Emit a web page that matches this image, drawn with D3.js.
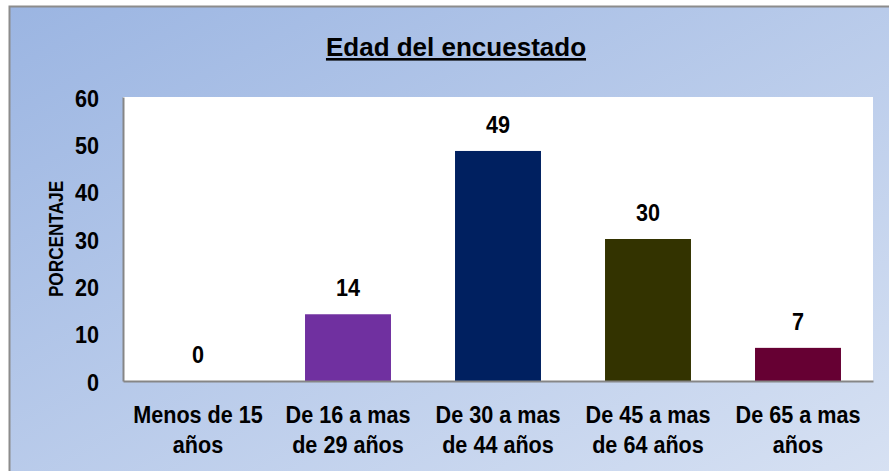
<!DOCTYPE html>
<html>
<head>
<meta charset="utf-8">
<script src="https://cdn.jsdelivr.net/npm/d3@7"></script>
<style>
  body { margin: 0; background: #fff; }
  svg text { font-family: "Liberation Sans Narrow", "Arial Narrow", "Liberation Sans", Arial, sans-serif; font-weight: bold; fill: #000; }
</style>
</head>
<body>
<svg id="chart" width="889" height="471"></svg>
<script>
// data
const categories = [
  ["Menos de 15", "años"],
  ["De 16 a mas", "de 29 años"],
  ["De 30 a mas", "de 44 años"],
  ["De 45 a mas", "de 64 años"],
  ["De 65 a mas", "años"]
];
const values = [0, 14.1, 48.6, 30, 7];
const barColors = ["#7f7f7f", "#7030a0", "#002060", "#333300", "#660033"];
const yTicks = [0, 10, 20, 30, 40, 50, 60];

const svg = d3.select("#chart"),
    width = +svg.attr("width"),
    height = +svg.attr("height");

const narrow = 0.9; // squeeze to look like a narrow face

// background gradient of the chart frame
const defs = svg.append("defs");
const grad = defs.append("linearGradient")
    .attr("id", "bg")
    .attr("x1", "0%").attr("y1", "0%")
    .attr("x2", "100%").attr("y2", "100%");
grad.append("stop").attr("offset", "0%").attr("stop-color", "#9bb5e2");
grad.append("stop").attr("offset", "100%").attr("stop-color", "#d8e2f3");

svg.append("rect")
    .attr("x", 9.5).attr("y", 6.5)
    .attr("width", width + 10).attr("height", height + 10)
    .attr("fill", "url(#bg)")
    .attr("stroke", "#8c8c8c")
    .attr("stroke-width", 2);

const margin = {left: 123, right: 16, top: 97, bottom: 90};
const x = d3.scaleBand()
    .domain(d3.range(categories.length))
    .range([margin.left, width - margin.right])
    .paddingInner(0.427)
    .paddingOuter(0.2135);

const y = d3.scaleLinear()
    .domain([0, 60])
    .range([height - margin.bottom, margin.top]);

// plot area
svg.append("rect")
    .attr("x", margin.left).attr("y", margin.top)
    .attr("width", width - margin.right - margin.left)
    .attr("height", y(0) - margin.top)
    .attr("fill", "#fff");

// bars
svg.selectAll("rect.bar")
  .data(values)
  .enter().append("rect")
    .attr("class", "bar")
    .attr("x", (d, i) => x(i))
    .attr("y", d => y(d))
    .attr("width", x.bandwidth())
    .attr("height", d => y(0) - y(d))
    .attr("fill", (d, i) => barColors[i]);

// value labels
svg.selectAll("text.val")
  .data(values)
  .enter().append("text")
    .attr("class", "val")
    .attr("transform", (d, i) => "translate(" + (x(i) + x.bandwidth() / 2) + "," + (y(d) - 18) + ") scale(" + narrow + ",1)")
    .attr("text-anchor", "middle")
    .style("font-size", "24px")
    .text(d => d3.format(".0f")(d));

// y axis
const yAxis = svg.append("g")
    .attr("transform", "translate(" + margin.left + ",0)")
    .call(d3.axisLeft(y).tickValues(yTicks).tickSize(0).tickPadding(24));
yAxis.select(".domain").attr("stroke", "#868686").attr("stroke-width", 2);
yAxis.selectAll("text")
    .attr("x", -24 / narrow)
    .attr("dy", "0.38em")
    .attr("transform", "scale(" + narrow + ",1)")
    .attr("fill", "#000")
    .style("font-size", "24px");

// x axis
const xAxis = svg.append("g")
    .attr("transform", "translate(0," + y(0) + ")")
    .call(d3.axisBottom(x).tickSize(0).tickFormat(""));
xAxis.select(".domain").attr("stroke", "#868686").attr("stroke-width", 2);

xAxis.selectAll(".tick").each(function(i) {
  const t = d3.select(this).append("text")
      .attr("text-anchor", "middle")
      .attr("transform", "scale(" + narrow + ",1)")
      .style("font-size", "24px");
  categories[i].forEach(function(line, k) {
    t.append("tspan").attr("x", 0).attr("y", 42 + k * 30).text(line);
  });
});

// titles
svg.append("text")
    .attr("x", 456).attr("y", 56)
    .attr("text-anchor", "middle")
    .style("font-size", "26px")
    .style("text-decoration", "underline")
    .text("Edad del encuestado");

svg.append("text")
    .attr("transform", "translate(63,239) rotate(-90) scale(0.86,1)")
    .attr("text-anchor", "middle")
    .style("font-size", "20px")
    .text("PORCENTAJE");
</script>
</body>
</html>
